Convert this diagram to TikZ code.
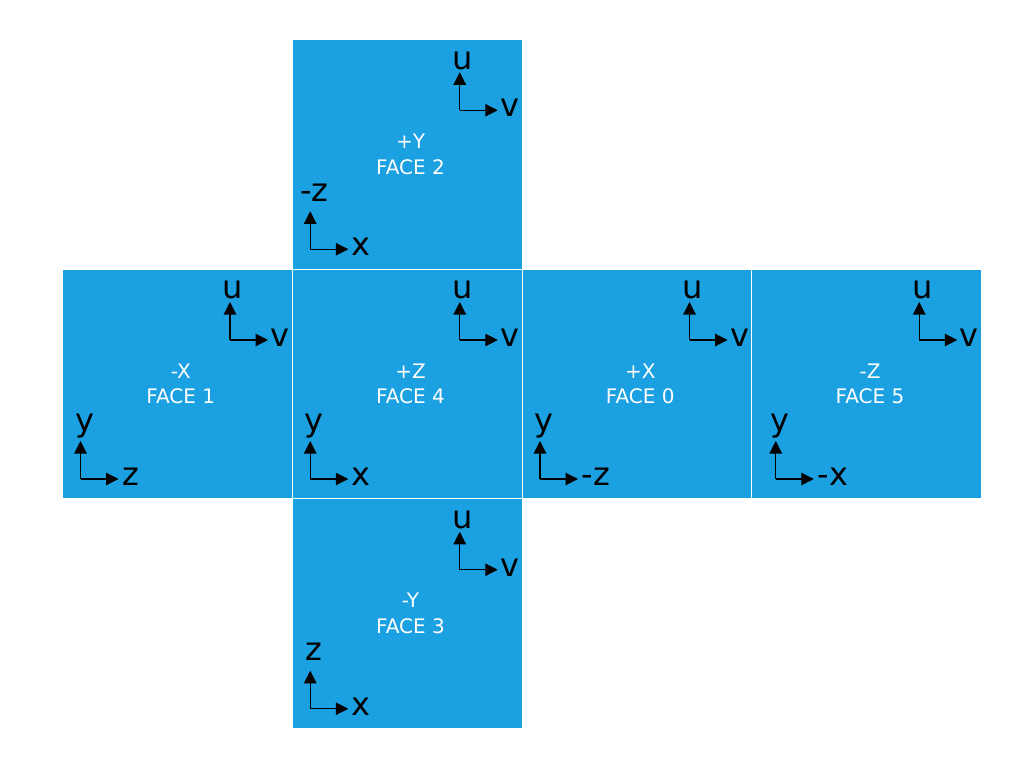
\documentclass[tikz,border=0pt]{standalone}
\usepackage{fontspec}
\setmainfont{DejaVu Sans}
\usetikzlibrary{arrows.meta}
\definecolor{faceblue}{RGB}{27,160,225}
\tikzset{
  facebox/.style={fill=faceblue, draw=white, line width=1pt, minimum width=229.75pt, minimum height=229.75pt, inner sep=0pt, anchor=north west},
  facetext/.style={text=white, font=\fontsize{20}{24}\selectfont, inner sep=0pt, anchor=base},
  axisarrow/.style={line width=1.1pt, -{Triangle[length=12.5pt,width=12.5pt]}},
  axislabel/.style={font=\fontsize{32}{38}\selectfont, inner sep=0pt},
}
% #1 name, #2 col, #3 row, #4 line1, #5 line2, #6 up label, #7 right label, #8 lower x offset
\newcommand{\cubeface}[8]{%
  \begin{scope}[shift={({62+229.75*#2},{38.75+229.75*#3})}]
    \node[facebox] (#1) at (0,0) {};
    \node[facetext] (#1-t1) at (118.75,109.5) {#4};
    \node[facetext] (#1-t2) at (118.75,135.25) {#5};
    \coordinate (#1-uo) at (168,71.5);
    \coordinate (#1-ut) at (168,33.5);
    \coordinate (#1-vt) at (206,71.5);
    \draw[axisarrow] (#1-uo) -- (#1-ut);
    \draw[axisarrow] (#1-uo) -- (#1-vt);
    \node[axislabel, anchor=base] (#1-u) at (171,30.3) {u};
    \node[axislabel, anchor=base west] (#1-v) at (208.5,78) {v};
    \coordinate (#1-ao) at ({18.5+#8},210.5);
    \coordinate (#1-at) at ({18.5+#8},172.5);
    \coordinate (#1-bt) at ({56.5+#8},210.5);
    \draw[axisarrow] (#1-ao) -- (#1-at);
    \draw[axisarrow] (#1-ao) -- (#1-bt);
    \node[axislabel, anchor=base] (#1-a) at ({22.5+#8},162.5) {#6};
    \node[axislabel, anchor=base west] (#1-b) at ({60+#8},217.2) {#7};
  \end{scope}}
\begin{document}
\begin{tikzpicture}[x=1pt,y=-1pt]
  \useasboundingbox (0,0) rectangle (1020,768);
  \cubeface{f2}{1}{0}{+Y}{FACE 2}{-z}{x}{0}
  \cubeface{f1}{0}{1}{-X}{FACE 1}{y}{z}{0}
  \cubeface{f4}{1}{1}{+Z}{FACE 4}{y}{x}{0}
  \cubeface{f0}{2}{1}{+X}{FACE 0}{y}{-z}{0}
  \cubeface{f5}{3}{1}{-Z}{FACE 5}{y}{-x}{6}
  \cubeface{f3}{1}{2}{-Y}{FACE 3}{z}{x}{0}
\end{tikzpicture}
\end{document}
